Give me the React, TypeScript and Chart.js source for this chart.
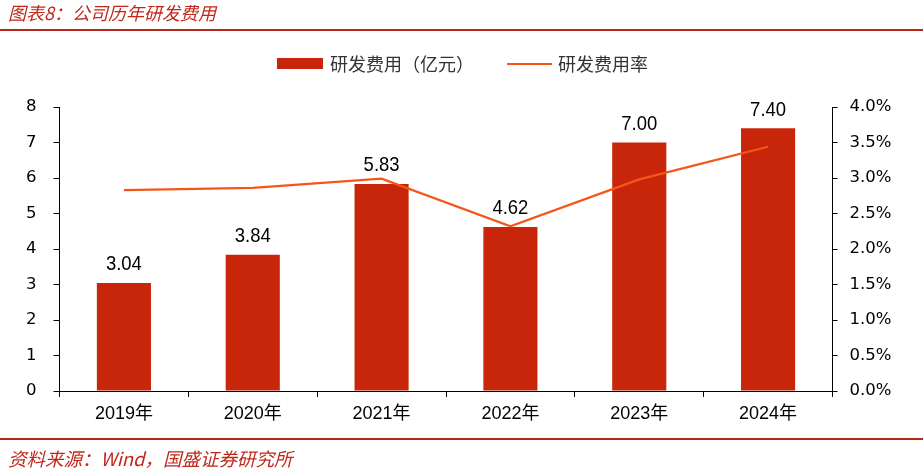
import React, { useEffect, useRef } from "react";
import { Chart, registerables } from "chart.js";

Chart.register(...registerables);

const categories = ["2019年", "2020年", "2021年", "2022年", "2023年", "2024年"];
const rdExpense = [3.04, 3.84, 5.83, 4.62, 7.0, 7.4];
const rdRate = [0.0283, 0.0286, 0.0299, 0.0232, 0.0298, 0.0344];
const leftTicks = [0, 8, 1];
const rightTicks = [0, 0.04, 0.005];

const barColor = "#C8260A";
const lineColor = "#F4561A";
const red = "#C0281A";
const narrow = "'Liberation Sans Narrow', 'Liberation Sans', 'Noto Sans CJK SC', sans-serif";
const tickFont = "'DejaVu Sans', 'Noto Sans CJK SC', sans-serif";

const labelPlugin = {
  id: "barLabels",
  afterDatasetsDraw(chart: any) {
    const meta = chart.getDatasetMeta(0);
    const ctx = chart.ctx;
    ctx.save();
    ctx.font = "21px " + narrow;
    ctx.fillStyle = "#000";
    ctx.textAlign = "center";
    ctx.textBaseline = "bottom";
    meta.data.forEach((bar: any, i: number) => {
      ctx.save();
      ctx.translate(bar.x, bar.y - 8);
      ctx.scale(0.88, 1);
      ctx.fillText(rdExpense[i].toFixed(2), 0, 0);
      ctx.restore();
    });
    ctx.restore();
  },
};

export default function App() {
  const ref = useRef<HTMLCanvasElement>(null);
  useEffect(() => {
    document.body.style.margin = "0";
    const chart = new Chart(ref.current!, {
      type: "bar",
      data: {
        labels: categories,
        datasets: [
          {
            type: "bar",
            label: "研发费用（亿元）",
            data: rdExpense,
            backgroundColor: barColor,
            yAxisID: "y",
            categoryPercentage: 1,
            barPercentage: 0.42,
            order: 1,
          },
          {
            type: "line",
            label: "研发费用率",
            data: rdRate,
            borderColor: lineColor,
            backgroundColor: lineColor,
            borderWidth: 2.3,
            pointRadius: 0,
            tension: 0,
            yAxisID: "y1",
            order: 0,
          } as any,
        ],
      },
      options: {
        responsive: false,
        animation: false,
        layout: { padding: { top: 107, left: 0, right: 0, bottom: 0 } },
        plugins: { legend: { display: false }, tooltip: { enabled: false } },
        scales: {
          x: {
            grid: { display: true, drawOnChartArea: false, drawTicks: true, tickLength: 6, color: "#000", offset: true },
            border: { display: true, color: "#000", width: 1 },
            ticks: { color: "#000", font: { family: narrow, size: 18 }, padding: 6 },
            afterFit: (s: any) => { s.height = 81; },
          },
          y: {
            position: "left",
            min: leftTicks[0],
            max: leftTicks[1],
            ticks: { stepSize: leftTicks[2], color: "#000", font: { family: tickFont, size: 16.5 }, padding: 17 },
            grid: { display: true, drawOnChartArea: false, drawTicks: true, tickLength: 6, color: "#000" },
            border: { display: true, color: "#000", width: 1 },
            afterFit: (s: any) => { s.width = 59.5; },
          },
          y1: {
            position: "right",
            min: rightTicks[0],
            max: rightTicks[1],
            ticks: {
              stepSize: rightTicks[2],
              color: "#000",
              font: { family: tickFont, size: 16.5 },
              padding: 12,
              callback: (v: any) => (Number(v) * 100).toFixed(1) + "%",
            },
            grid: { display: true, drawOnChartArea: false, drawTicks: true, tickLength: 5, color: "#000" },
            border: { display: true, color: "#000", width: 1 },
            afterFit: (s: any) => { s.width = 90.5; },
          },
        },
      },
      plugins: [labelPlugin],
    });
    return () => chart.destroy();
  }, []);

  const cjk = "'Noto Sans CJK SC', sans-serif";
  return (
    <div style={{ position: "absolute", left: 0, top: 0, width: 923, height: 472, background: "#fff", overflow: "hidden" }}>
      <canvas ref={ref} width={923} height={472} style={{ position: "absolute", left: 0, top: 0 }} />
      <div style={{ position: "absolute", left: 8, top: 0, fontFamily: cjk, fontStyle: "italic", fontSize: 18, color: red, whiteSpace: "nowrap", lineHeight: "24px" }}>
        图表8：公司历年研发费用
      </div>
      <div style={{ position: "absolute", left: 0, top: 29, width: 923, height: 2, background: "#B8281A" }} />
      <div style={{ position: "absolute", left: 277, top: 58, width: 46, height: 11, background: barColor }} />
      <div style={{ position: "absolute", left: 330, top: 51, fontFamily: cjk, fontSize: 18, color: "#333", lineHeight: "24px", whiteSpace: "nowrap" }}>
        研发费用（亿元）
      </div>
      <div style={{ position: "absolute", left: 507, top: 62.5, width: 45, height: 2.5, background: lineColor }} />
      <div style={{ position: "absolute", left: 558, top: 51, fontFamily: cjk, fontSize: 18, color: "#333", lineHeight: "24px", whiteSpace: "nowrap" }}>
        研发费用率
      </div>
      <div style={{ position: "absolute", left: 0, top: 438, width: 923, height: 1.5, background: "#B8281A" }} />
      <div style={{ position: "absolute", left: 8, top: 446, fontFamily: cjk, fontStyle: "italic", fontSize: 18.5, color: red, whiteSpace: "nowrap", lineHeight: "24px" }}>
        资料来源：Wind，国盛证券研究所
      </div>
    </div>
  );
}
